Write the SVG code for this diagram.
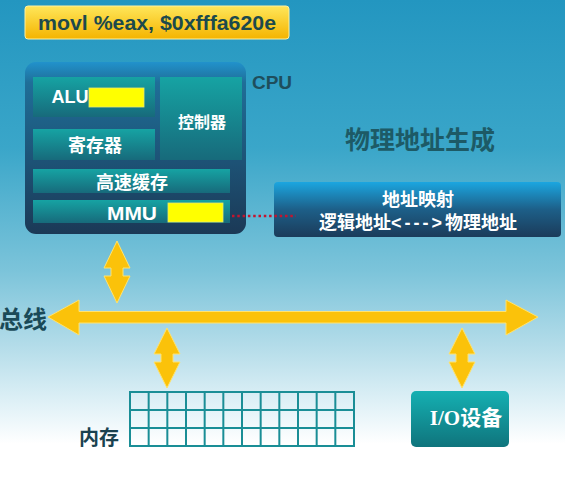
<svg xmlns="http://www.w3.org/2000/svg" width="565" height="493" viewBox="0 0 565 493">
<defs>
<linearGradient id="bg" x1="0" y1="0" x2="0" y2="1">
<stop offset="0" stop-color="#2396c0"/>
<stop offset="0.3" stop-color="#3aa6c9"/>
<stop offset="0.55" stop-color="#7cc4da"/>
<stop offset="0.7" stop-color="#b3dce9"/>
<stop offset="0.83" stop-color="#e4f3f8"/>
<stop offset="0.9" stop-color="#ffffff"/>
</linearGradient>
<linearGradient id="gBanner" x1="0" y1="0" x2="0" y2="1">
<stop offset="0" stop-color="#ffe65a"/>
<stop offset="1" stop-color="#f4b400"/>
</linearGradient>
<linearGradient id="gCpu" x1="0" y1="0" x2="0" y2="1">
<stop offset="0" stop-color="#2192cc"/>
<stop offset="0.12" stop-color="#1f6e98"/>
<stop offset="1" stop-color="#1b3956"/>
</linearGradient>
<linearGradient id="gTeal" x1="0" y1="0" x2="0" y2="1">
<stop offset="0" stop-color="#16a3a3"/>
<stop offset="1" stop-color="#176a7b"/>
</linearGradient>
<linearGradient id="gMap" x1="0" y1="0" x2="0" y2="1">
<stop offset="0" stop-color="#1ba6e0"/>
<stop offset="0.5" stop-color="#1d5f88"/>
<stop offset="1" stop-color="#1b3b5a"/>
</linearGradient>
<linearGradient id="gIo" x1="0" y1="0" x2="0" y2="1">
<stop offset="0" stop-color="#15b0b2"/>
<stop offset="1" stop-color="#0f747c"/>
</linearGradient>
</defs>
<style>
.lbl{font-family:"Liberation Sans","Noto Sans CJK SC",sans-serif;font-weight:bold;fill:#ffffff;text-anchor:middle;dominant-baseline:central}
.dark{font-family:"Liberation Sans","Noto Sans CJK SC",sans-serif;font-weight:bold;text-anchor:middle;dominant-baseline:central}
.inner{fill:url(#gTeal)}
.arrow{fill:#fbc20a;stroke:#ffe36e;stroke-width:1;stroke-linejoin:miter}
.grid{fill:none;stroke:#1a8e96;stroke-width:2}
.hl{fill:#ffff00;stroke:#e8e870;stroke-width:0.8}
</style>
<rect x="0" y="0" width="565" height="493" fill="url(#bg)"/>

<g id="banner">
<rect x="25" y="6" width="264" height="33" rx="3" fill="url(#gBanner)" stroke="#fff0a0" stroke-width="1"/>
<text x="157" y="23" class="dark" font-size="20" fill="#1c4a4c" textLength="238" lengthAdjust="spacingAndGlyphs">movl %eax, $0xfffa620e</text>
</g>

<g id="cpu">
<rect x="25" y="62" width="221" height="172" rx="11" fill="url(#gCpu)"/>
<text x="272" y="82" class="dark" font-size="19" fill="#1e4e5c">CPU</text>
</g>

<g id="alu">
<rect x="33" y="77" width="122" height="40" class="inner"/>
<text x="70" y="97" class="lbl" font-size="18">ALU</text>
<rect x="89" y="88" width="55" height="19" class="hl"/>
</g>

<g id="controller">
<rect x="160" y="77" width="82" height="83" class="inner"/>
<text x="202" y="122" class="lbl" font-size="16">控制器</text>
</g>

<g id="register">
<rect x="33" y="129" width="122" height="31" class="inner"/>
<text x="95" y="146" class="lbl" font-size="18">寄存器</text>
</g>

<g id="cache">
<rect x="33" y="169" width="197" height="24" class="inner"/>
<text x="132" y="183" class="lbl" font-size="18">高速缓存</text>
</g>

<g id="mmu">
<rect x="33" y="200" width="197" height="23" class="inner"/>
<text x="132" y="213" class="lbl" font-size="19" textLength="50" lengthAdjust="spacingAndGlyphs">MMU</text>
<rect x="168" y="203" width="55" height="19" class="hl"/>
</g>

<g id="title">
<text x="420" y="140" class="dark" font-size="25" fill="#1d5a66">物理地址生成</text>
</g>

<g id="addrmap">
<rect x="274" y="182" width="287" height="55" rx="4" fill="url(#gMap)"/>
<text x="418" y="200" class="lbl" font-size="18">地址映射</text>
<text x="418" y="223" class="lbl" font-size="18">逻辑地址<tspan letter-spacing="3">&lt;---&gt;</tspan>物理地址</text>
</g>

<g id="bus-label">
<text x="47" y="319" class="dark" font-size="24" fill="#1a4a58" style="text-anchor:end">总线</text>
</g>

<g id="memory">
<rect x="130" y="392" width="224" height="54" class="grid"/>
<path class="grid" d="M130 410H354M130 428H354M148.67 392V446M167.33 392V446M186 392V446M204.67 392V446M223.33 392V446M242 392V446M260.67 392V446M279.33 392V446M298 392V446M316.67 392V446M335.33 392V446"/>
<text x="99" y="438" class="dark" font-size="20" fill="#1a4250">内存</text>
</g>

<g id="io">
<rect x="411" y="391" width="98" height="56" rx="5" fill="url(#gIo)"/>
<text x="466" y="418" class="lbl" font-size="21" style="font-family:'Liberation Serif','Noto Sans CJK SC',serif">I/O设备</text>
</g>

<g id="connectors">
<polygon class="arrow" points="48,317 79,300 79,311.5 506,311.5 506,300 538,317 506,335 506,323 79,323 79,335"/>
<polygon class="arrow" points="117,241 130,268 123,268 123,276 130,276 117,303 104,276 111,276 111,268 104,268"/>
<polygon class="arrow" points="167,328 180,354 173,354 173,362 180,362 167,388 154,362 161,362 161,354 154,354"/>
<polygon class="arrow" points="462,328 475,354 468,354 468,362 475,362 462,388 449,362 456,362 456,354 449,354"/>
<line x1="232" y1="216" x2="296" y2="216" stroke="#c4142f" stroke-width="2.5" stroke-dasharray="2.5 2.8"/>
</g>
</svg>
